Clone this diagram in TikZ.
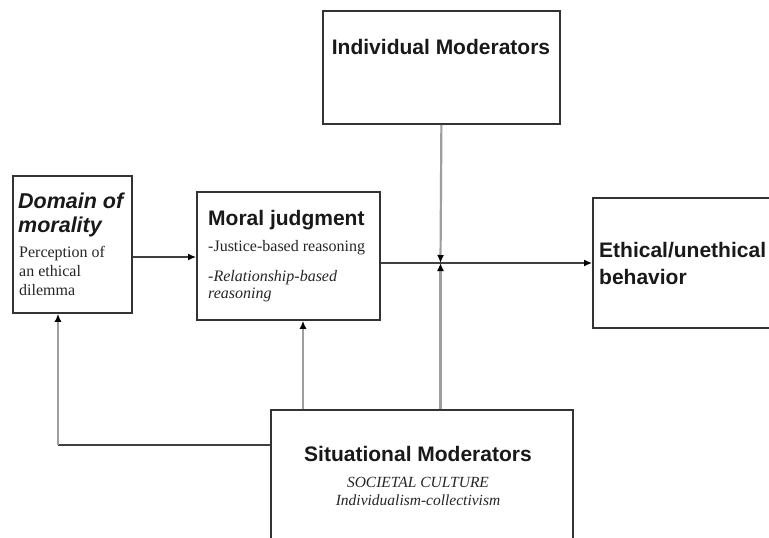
\documentclass[tikz,border=0pt]{standalone}
\usepackage{fontspec}
\setmainfont{Liberation Serif}
\newfontfamily\hv{Liberation Sans}
\usetikzlibrary{arrows.meta}
\begin{document}
\begin{tikzpicture}[x=1pt,y=-1pt,
  box/.style={draw=black!80,line width=1.8pt,fill=white,rectangle,inner sep=0pt,anchor=north west},
  hline/.style={draw=black!75,line width=1.3pt},
  vline/.style={draw=black!38,line width=2.2pt},
  tip/.style={-{Latex[length=8pt,width=7pt,color=black]}},
  hd/.style={font=\hv\bfseries\fontsize{21}{24}\selectfont,inner sep=0pt,text=black!90},
  hdi/.style={font=\hv\bfseries\itshape\fontsize{21.5}{24}\selectfont,inner sep=0pt,text=black!90},
  sr/.style={font=\fontsize{16}{18}\selectfont,inner sep=0pt,text=black!85},
  sri/.style={font=\itshape\fontsize{16}{18}\selectfont,inner sep=0pt,text=black!85},
]
\clip (0,0) rectangle (769,538);
\fill[white] (0,0) rectangle (769,538);
% boxes
\node[box,minimum width=119pt,minimum height=137pt] (dom) at (12,175) {};
\node[box,minimum width=183pt,minimum height=128pt] (mj) at (196,191) {};
\node[box,minimum width=237pt,minimum height=113pt] (ind) at (322,10) {};
\node[box,minimum width=220pt,minimum height=130pt] (eth) at (592,197) {};
\node[box,minimum width=302pt,minimum height=160pt] (sit) at (270,409) {};
% coordinates
\coordinate (y257) at (0,257);
\coordinate (junc) at (440.5,263);
\coordinate (x303) at (303,0);
\coordinate (corner) at (58,445);
% connectors
\draw[hline,tip] (dom.east |- y257) -- (mj.west |- y257);
\draw[hline,tip] (mj.east |- junc) -- (eth.west |- junc);
\draw[vline,tip] (ind.south) -- (junc);
\draw[vline,tip] (sit.north -| junc) -- (junc);
\draw[vline,tip] (sit.north -| x303) -- (mj.south -| x303);
\draw[hline] (sit.west |- corner) -- (corner);
\draw[vline,tip] (corner) -- (dom.south -| corner);
% texts
\node[hdi,anchor=base west] (t1) at (18,208) {Domain of};
\node[hdi,anchor=base west] (t2) at (18,232) {morality};
\node[sr,anchor=base west] (t3) at (19,257) {Perception of};
\node[sr,anchor=base west] (t4) at (19,276) {an ethical};
\node[sr,anchor=base west] (t5) at (19,295) {dilemma};
\node[hd,anchor=base west] (t6) at (208,225) {Moral judgment};
\node[sr,anchor=base west] (t7) at (208,251) {-Justice-based reasoning};
\node[sri,anchor=base west] (t8) at (208,281) {-Relationship-based};
\node[sri,anchor=base west] (t9) at (208,298) {reasoning};
\node[hd,anchor=base] (t10) at (441,54) {Individual Moderators};
\node[hd,anchor=base west] (t11) at (599,257) {Ethical/unethical};
\node[hd,anchor=base west] (t12) at (599,284) {behavior};
\node[hd,anchor=base] (t13) at (418,461) {Situational Moderators};
\node[sri,anchor=base,font=\itshape\fontsize{15.5}{18}\selectfont] (t14) at (418,487) {SOCIETAL CULTURE};
\node[sri,anchor=base,font=\itshape\fontsize{15.5}{18}\selectfont] (t15) at (418,505) {Individualism-collectivism};
\end{tikzpicture}
\end{document}
